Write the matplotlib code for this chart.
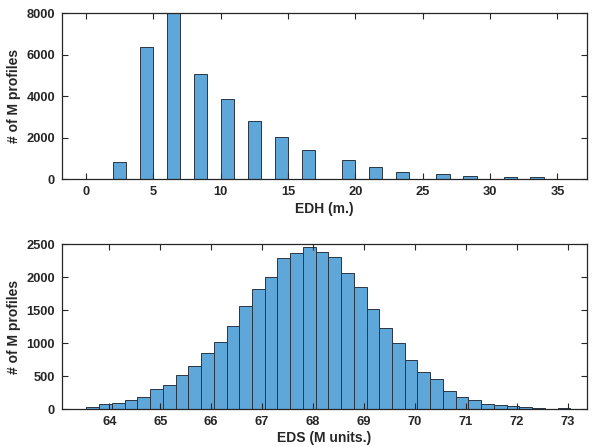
import numpy as np
import matplotlib
matplotlib.use("Agg")
import matplotlib.pyplot as plt

plt.rcParams["font.family"] = ["Liberation Sans", "DejaVu Sans"]
plt.rcParams["font.weight"] = "bold"

# EDH histogram (bars of width 1, left edges in m.)
edh_left = [2, 4, 6, 8, 10, 12, 14, 16, 19, 21, 23, 26, 28, 31, 33]
edh_counts = [820, 6370, 8000, 5090, 3850, 2810, 2060, 1410, 910, 580, 365, 270, 175, 120, 90]

# EDS histogram (bin width 0.25, first edge 63.55)
eds_first_edge = 63.55
eds_bin_width = 0.25
eds_counts = [30, 76, 100, 141, 181, 302, 363, 514, 655, 847,
              1023, 1265, 1557, 1819, 1999, 2290, 2370, 2460, 2380, 2303,
              2056, 1850, 1522, 1230, 1008, 746, 565, 454, 282, 186,
              141, 86, 60, 55, 30, 20, 10, 15]

bar_color = "#5fa6d9"
edge_color = "#2a3642"
text_color = "#262626"

fig = plt.figure(figsize=(5.93, 4.47), dpi=100)
ax1 = fig.add_axes([0.1046, 0.599, 0.8854, 0.371])
ax2 = fig.add_axes([0.1046, 0.0843, 0.8854, 0.3697])

# top panel
ax1.bar(edh_left, edh_counts, width=1.0, align="edge",
        color=bar_color, edgecolor=edge_color, linewidth=0.7)
ax1.set_xlim(-1.78, 37.2)
ax1.set_ylim(0, 8000)
ax1.set_xticks([0, 5, 10, 15, 20, 25, 30, 35])
ax1.set_yticks([0, 2000, 4000, 6000, 8000])
ax1.set_xlabel("EDH (m.)", fontsize=10, fontweight="bold", color=text_color, labelpad=3)
ax1.set_ylabel("# of M profiles", fontsize=10, fontweight="bold", color=text_color, labelpad=4)

# bottom panel
eds_edges = eds_first_edge + eds_bin_width * np.arange(len(eds_counts))
ax2.bar(eds_edges, eds_counts, width=eds_bin_width, align="edge",
        color=bar_color, edgecolor=edge_color, linewidth=0.7)
ax2.set_xlim(63.07, 73.38)
ax2.set_ylim(0, 2500)
ax2.set_xticks(range(64, 74))
ax2.set_yticks([0, 500, 1000, 1500, 2000, 2500])
ax2.set_xlabel("EDS (M units.)", fontsize=10, fontweight="bold", color=text_color, labelpad=2)
ax2.set_ylabel("# of M profiles", fontsize=10, fontweight="bold", color=text_color, labelpad=4)

for ax in (ax1, ax2):
    ax.tick_params(direction="in", top=True, right=True, length=4, width=0.8,
                   labelsize=9.3, colors=text_color, pad=5)
    for lab in ax.get_xticklabels() + ax.get_yticklabels():
        lab.set_fontweight("bold")
    for sp in ax.spines.values():
        sp.set_color(text_color)
        sp.set_linewidth(0.9)

fig.savefig("out.png", dpi=100)
